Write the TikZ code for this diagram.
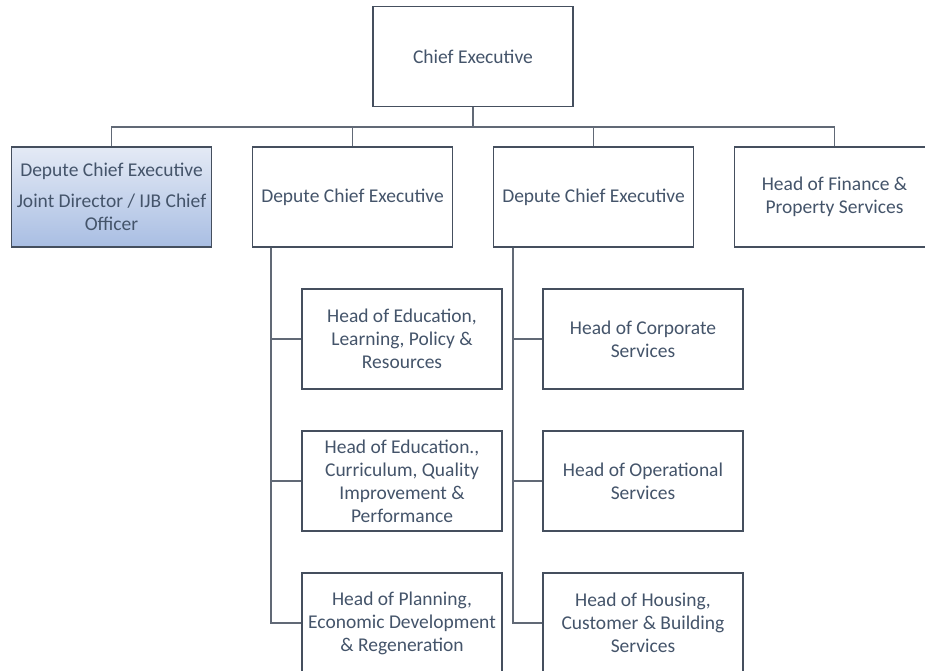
\documentclass[tikz,border=0pt]{standalone}
\usepackage{fontspec}
\setmainfont{Carlito}
\usetikzlibrary{positioning}

\definecolor{txtblue}{HTML}{44546A}
\definecolor{frame}{HTML}{454F5E}
\definecolor{paleblue}{HTML}{E4EAF5}
\definecolor{midblue}{HTML}{A9BEE3}

\tikzset{
  post/.style={draw=frame, line width=1.3pt, fill=white, text=txtblue,
    minimum width=200pt, minimum height=100pt,
    align=center, inner sep=0pt, font=\fontsize{19.5}{23}\selectfont},
  link/.style={draw=frame!85, line width=1.3pt}
}

\begin{document}
\begin{tikzpicture}[x=1pt, y=-1pt, on grid, node distance=142pt]
  \useasboundingbox (0,0) rectangle (925,670);
  \clip (0,0) rectangle (925,670);

  \node[post] (ce) at (473,56.5) {Chief Executive};
  \node[post, top color=paleblue, bottom color=midblue] (dce1) at (111.5,197)
    {Depute Chief Executive\\[8pt]Joint Director / IJB Chief\\Officer};
  \node[post, right=241pt of dce1] (dce2) {Depute Chief Executive};
  \node[post, right=241pt of dce2] (dce3) {Depute Chief Executive};
  \node[post, right=241pt of dce3] (hfin) {Head of Finance \&\\Property Services};

  \node[post, below right=142pt and 49.5pt of dce2] (hedu) {Head of Education,\\Learning, Policy \&\\Resources};
  \node[post, below=of hedu] (hcur) {Head of Education.,\\Curriculum, Quality\\Improvement \&\\Performance};
  \node[post, below=of hcur] (hplan) {Head of Planning,\\Economic Development\\\& Regeneration};

  \node[post, below right=142pt and 49.5pt of dce3] (hcorp) {Head of Corporate\\Services};
  \node[post, below=of hcorp] (hops) {Head of Operational\\Services};
  \node[post, below=of hops] (hhous) {Head of Housing,\\Customer \& Building\\Services};

  \coordinate (bus) at (ce.south |- 0,127);
  \coordinate (spine2) at ([xshift=19pt]dce2.south west);
  \coordinate (spine3) at ([xshift=20pt]dce3.south west);

  \draw[link] (ce.south) -- (bus);
  \draw[link] (bus) -| (dce1.north);
  \draw[link] (bus) -| (dce2.north);
  \draw[link] (bus) -| (dce3.north);
  \draw[link] (bus) -| (hfin.north);

  \draw[link] (spine2) |- (hedu.west);
  \draw[link] (spine2) |- (hcur.west);
  \draw[link] (spine2) |- (hplan.west);
  \draw[link] (spine3) |- (hcorp.west);
  \draw[link] (spine3) |- (hops.west);
  \draw[link] (spine3) |- (hhous.west);
\end{tikzpicture}
\end{document}
